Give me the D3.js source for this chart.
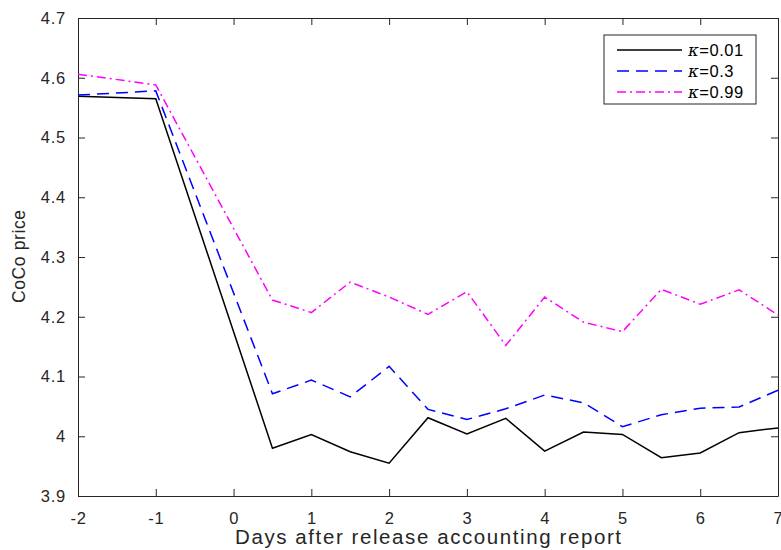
<!DOCTYPE html>
<html><head><meta charset="utf-8">
<script src="https://cdn.jsdelivr.net/npm/d3@7"></script>
<style>body{margin:0;background:#fff}svg{display:block}</style>
</head><body>
<svg id="c" width="781" height="550"></svg>
<script>
const days = [-2, -1, 0.5, 1, 1.5, 2, 2.5, 3, 3.5, 4, 4.5, 5, 5.5, 6, 6.5, 7];
const kappa001 = [4.569, 4.565, 3.980, 4.003, 3.974, 3.955, 4.031, 4.004, 4.030, 3.975, 4.007, 4.003, 3.964, 3.972, 4.006, 4.014];
const kappa03  = [4.571, 4.578, 4.071, 4.094, 4.066, 4.117, 4.045, 4.028, 4.046, 4.069, 4.056, 4.016, 4.036, 4.047, 4.049, 4.077];
const kappa099 = [4.606, 4.588, 4.228, 4.207, 4.258, 4.233, 4.204, 4.242, 4.152, 4.233, 4.191, 4.175, 4.246, 4.221, 4.245, 4.203];
const seriesNames = ["0.01", "0.3", "0.99"];
const xTicks = [-2, -1, 0, 1, 2, 3, 4, 5, 6, 7];
const yTicks = [3.9, 4, 4.1, 4.2, 4.3, 4.4, 4.5, 4.6, 4.7];

const svg = d3.select("#c");
const L = 78, R = 778, T = 18, B = 496;
const x = d3.scaleLinear().domain([-2, 7]).range([L, R]);
const y = d3.scaleLinear().domain([3.9, 4.7]).range([B, T]);
const font = "'Liberation Sans', Arial, sans-serif";
const tc = "#262626";
const fmt = d => String(+(+d).toFixed(1));

// axes
const xa = svg.append("g").attr("transform", `translate(0,${B})`)
  .call(d3.axisBottom(x).tickValues(xTicks).tickFormat(fmt).tickSizeInner(-7).tickSizeOuter(0).tickPadding(16));
const xt = svg.append("g").attr("transform", `translate(0,${T})`)
  .call(d3.axisTop(x).tickValues(xTicks).tickFormat("").tickSizeInner(-7).tickSizeOuter(0));
const ya = svg.append("g").attr("transform", `translate(${L},0)`)
  .call(d3.axisLeft(y).tickValues(yTicks).tickFormat(fmt).tickSizeInner(-7).tickSizeOuter(0).tickPadding(12));
const yr = svg.append("g").attr("transform", `translate(${R},0)`)
  .call(d3.axisRight(y).tickValues(yTicks).tickFormat("").tickSizeInner(-7).tickSizeOuter(0));
[xa, xt, ya, yr].forEach(g => {
  g.select(".domain").attr("stroke", tc).attr("stroke-width", 1);
  g.selectAll(".tick line").attr("stroke", tc).attr("stroke-width", 1);
  g.selectAll("text").attr("fill", tc).style("font-family", font).style("font-size", "16.5px");
});
ya.selectAll("text").style("letter-spacing", "0.8px");
xa.selectAll("text").style("letter-spacing", "0.6px");

// lines
const data = [kappa001, kappa03, kappa099];
const colors = ["#000000", "#0000ff", "#ff00ff"];
const dashes = [null, "12,7", "9,4,2,4"];
const line = d3.line().x(d => x(d[0])).y(d => y(d[1]));
data.forEach((vals, i) => {
  svg.append("path").datum(days.map((d, j) => [d, vals[j]]))
    .attr("d", line).attr("fill", "none").attr("stroke", colors[i])
    .attr("stroke-width", 1.5).attr("stroke-dasharray", dashes[i]);
});

// labels
svg.append("text").attr("x", 235).attr("y", 544)
  .attr("textLength", 386).attr("lengthAdjust", "spacing")
  .attr("fill", tc).style("font-family", font).style("font-size", "20.5px")
  .text("Days after release accounting report");
svg.append("text").attr("transform", `translate(25,303) rotate(-90)`)
  .attr("textLength", 93).attr("lengthAdjust", "spacing")
  .attr("fill", tc).style("font-family", font).style("font-size", "17.5px")
  .text("CoCo price");

// legend
const lg = svg.append("g");
lg.append("rect").attr("x", 604).attr("y", 35).attr("width", 152).attr("height", 69)
  .attr("fill", "#fff").attr("stroke", tc).attr("stroke-width", 1);
seriesNames.forEach((n, i) => {
  const yy = 50 + i * 21;
  lg.append("line").attr("x1", 617).attr("x2", 682).attr("y1", yy).attr("y2", yy)
    .attr("stroke", colors[i]).attr("stroke-width", 1.5).attr("stroke-dasharray", dashes[i]);
  const t = lg.append("text").attr("x", 688).attr("y", yy + 6).attr("fill", "#000")
    .style("font-family", font).style("font-size", "16.5px").style("letter-spacing", "0.5px");
  t.append("tspan").style("font-style", "italic").style("font-family", "'DejaVu Serif', serif").text("κ");
  t.append("tspan").text("=" + n);
});
</script>
</body></html>
